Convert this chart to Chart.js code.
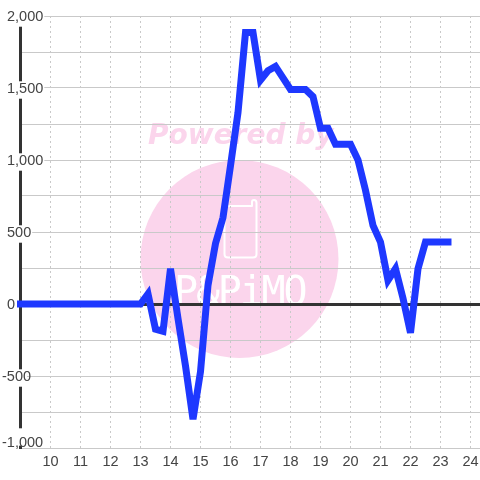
<!DOCTYPE html>
<html>
<head>
<meta charset="utf-8">
<style>html,body{margin:0;padding:0;background:#fff}canvas{display:block}</style>
<script src="https://cdn.jsdelivr.net/npm/chart.js@4"></script>
</head>
<body>
<canvas id="c" width="480" height="480"></canvas>
<script>
const hours = [9,9.25,9.5,9.75,10,10.25,10.5,10.75,11,11.25,11.5,11.75,12,12.25,12.5,12.75,13,13.25,13.5,13.75,14,14.25,14.5,14.75,15,15.25,15.5,15.75,16,16.25,16.5,16.75,17,17.25,17.5,17.75,18,18.25,18.5,18.75,19,19.25,19.5,19.75,20,20.25,20.5,20.75,21,21.25,21.5,21.75,22,22.25,22.5,22.75,23,23.25];
const values = [0,0,0,0,0,0,0,0,0,0,0,0,0,0,0,0,0,70,-175,-190,245,-100,-430,-800,-470,130,420,600,960,1330,1885,1885,1555,1620,1650,1570,1490,1490,1490,1440,1220,1220,1110,1110,1110,1000,790,545,430,165,245,40,-200,245,430,430,430,430];
const xTicks = [10,11,12,13,14,15,16,17,18,19,20,21,22,23,24];
const yMin = -1000, yMax = 2000, yStep = 250, yLabelStep = 500;

const GRID = '#c9c9c9', INK = '#444444', AXIS = '#333333';

const watermark = {
  id: 'watermark',
  beforeDraw(chart) {
    const ctx = chart.ctx;
    ctx.save();
    ctx.fillStyle = '#ffffff';
    ctx.fillRect(0, 0, 480, 480);
    ctx.fillStyle = '#fbd5ec';
    ctx.beginPath();
    ctx.arc(239.5, 259, 99, 0, Math.PI * 2);
    ctx.fill();
    ctx.font = 'italic bold 28px "DejaVu Sans"';
    ctx.textAlign = 'left';
    ctx.textBaseline = 'alphabetic';
    ctx.fillText('Powered by', 148, 144);
    ctx.strokeStyle = '#ffffff';
    ctx.lineWidth = 2;
    ctx.lineJoin = 'round';
    ctx.beginPath();
    ctx.moveTo(228, 206);
    ctx.lineTo(252, 206);
    ctx.lineTo(252, 202);
    ctx.quadraticCurveTo(252, 200, 254, 200);
    ctx.quadraticCurveTo(256.5, 200, 256.5, 203);
    ctx.lineTo(256.5, 254);
    ctx.quadraticCurveTo(256.5, 257.5, 253, 257.5);
    ctx.lineTo(228, 257.5);
    ctx.quadraticCurveTo(224.5, 257.5, 224.5, 254);
    ctx.lineTo(224.5, 210);
    ctx.quadraticCurveTo(224.5, 206, 228, 206);
    ctx.stroke();
    ctx.fillStyle = '#ffffff';
    ctx.font = '40px "DejaVu Sans Mono"';
    ctx.letterSpacing = '-2.2px';
    ctx.fillText('P&PiMO', 174, 305);
    ctx.restore();
    chart.scales.y.getLabelItems().forEach((it) => {
      if (it._moved) return;
      it._moved = true;
      const v = parseFloat(String(it.label).replace(/,/g, ''));
      const dx = v < 0 ? -5 : 0;
      const dy = v === yMin ? -5.5 : 1;
      it.options.translation[0] += dx;
      it.options.translation[1] += dy;
      if (it.options.backdrop) {
        it.options.backdrop.left += dx;
        it.options.backdrop.top += dy;
      }
    });
  },
  beforeDatasetDraw(chart) {
    chart.ctx.miterLimit = 4;
  }
};

new Chart(document.getElementById('c'), {
  type: 'line',
  data: {
    labels: hours,
    datasets: [{
      data: hours.map((h, i) => ({ x: h, y: values[i] })),
      borderColor: '#1e38ff',
      borderWidth: 7,
      borderCapStyle: 'square',
      borderJoinStyle: 'miter',
      pointRadius: 0,
      tension: 0,
      fill: false,
      clip: false
    }]
  },
  options: {
    responsive: false,
    animation: false,
    layout: { padding: { left: 20.5, right: 0, top: 16, bottom: 0 } },
    plugins: { legend: { display: false }, tooltip: { enabled: false } },
    scales: {
      x: {
        type: 'linear',
        min: 9,
        max: 24.317,
        afterBuildTicks: (s) => { s.ticks = xTicks.map((v) => ({ value: v })); },
        afterFit: (s) => { s.height = 32; s.paddingLeft = 0; s.paddingRight = 0; },
        grid: { color: GRID, lineWidth: 1, drawTicks: false },
        border: { display: false, dash: [2, 3] },
        ticks: {
          autoSkip: false, maxRotation: 0, padding: 5, color: INK,
          font: { family: '"Liberation Sans"', size: 14.5 },
          callback: (v) => String(v)
        }
      },
      y: {
        type: 'linear',
        min: yMin,
        max: yMax,
        afterFit: (s) => { s.width = 0; s.paddingTop = 0; s.paddingBottom = 0; },
        grid: {
          color: (c) => c.tick.value === 0 ? AXIS : GRID,
          lineWidth: (c) => c.tick.value === 0 ? 3 : 1,
          drawTicks: false
        },
        border: { display: true, color: AXIS, width: 3 },
        ticks: {
          stepSize: yStep,
          mirror: true,
          padding: -13.5,
          color: INK,
          font: { family: '"Liberation Sans"', size: 14.5 },
          showLabelBackdrop: (c) => c.tick.value % yLabelStep === 0,
          backdropColor: '#ffffff',
          backdropPadding: { left: 1, right: 1, top: 0, bottom: 0 },
          callback: (v) => v % yLabelStep === 0 ? v.toLocaleString('en-US') : ''
        }
      }
    }
  },
  plugins: [watermark]
});
</script>
</body>
</html>
